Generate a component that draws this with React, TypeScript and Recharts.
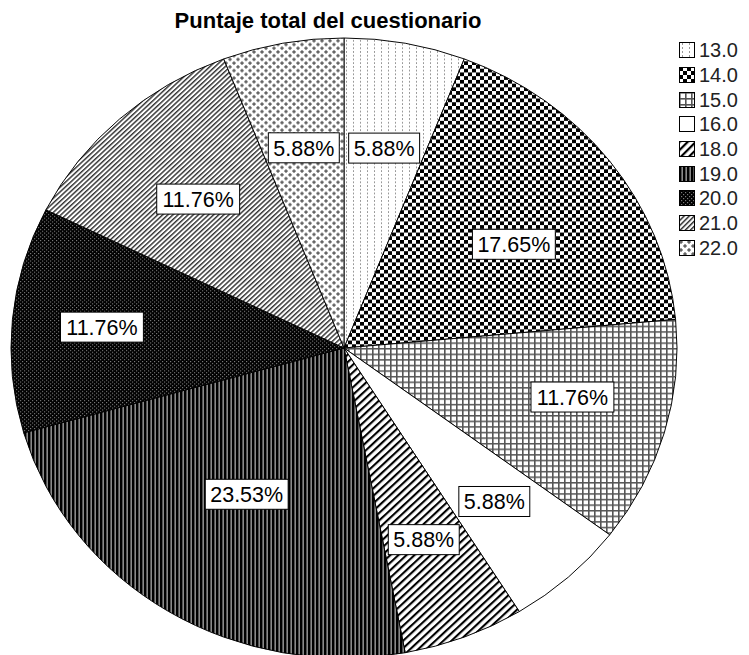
import React from 'react';
import { PieChart, Pie, Cell, Legend } from 'recharts';

const title = 'Puntaje total del cuestionario';
const categories = ['13.0', '14.0', '15.0', '16.0', '18.0', '19.0', '20.0', '21.0', '22.0'];
const counts = [1, 3, 2, 1, 1, 4, 2, 2, 1];
const percentLabels = ['5.88%', '17.65%', '11.76%', '5.88%', '5.88%', '23.53%', '11.76%', '11.76%', '5.88%'];
const patternIds = ['p13', 'p14', 'p15', 'p16', 'p18', 'p19', 'p20', 'p21', 'p22'];

const data = categories.map((name, i) => ({ name, value: counts[i], label: percentLabels[i] }));

// label placement style: radial fraction and angular nudge (degrees, clockwise) per slice
const labelRadius = [0.656, 0.61, 0.704, 0.67, 0.663, 0.555, 0.73, 0.65, 0.657];
const labelNudge = [0, 3.8, -2.9, 0, 0, 0, 0, 0, 0];

const CX = 344;
const CY = 348;
const RX = 333;
const Y_SCALE = 310 / 333;
const FONT = '"Liberation Sans", Arial, sans-serif';
const LABEL_FONT = 21.5;
const RAD = Math.PI / 180;

const charW = (c: string) => (c === '.' ? 0.278 : c === '%' ? 0.889 : 0.556);
const textWidth = (s: string, size: number) => s.split('').reduce((a, c) => a + charW(c), 0) * size;

const css = `
body { margin: 0; }
.squash path.recharts-sector {
  transform-box: view-box;
  transform-origin: ${CX}px ${CY}px;
  transform: scaleY(${Y_SCALE});
}
`;

const renderLabel = (props: any) => {
  const { cx, cy, midAngle, outerRadius, index } = props;
  const f = labelRadius[index];
  const a = (midAngle - labelNudge[index]) * RAD;
  const x = cx + outerRadius * f * Math.cos(a);
  const y = cy - outerRadius * Y_SCALE * f * Math.sin(a);
  const text = percentLabels[index];
  const w = textWidth(text, LABEL_FONT) + 10;
  const h = 30;
  return (
    <g key={`lbl-${index}`}>
      <rect x={x - w / 2} y={y - h / 2} width={w} height={h} fill="#fff" stroke="#000" strokeWidth={1} />
      <text x={x} y={y + LABEL_FONT * 0.36} textAnchor="middle" fontSize={LABEL_FONT} fontFamily={FONT} fill="#000">
        {text}
      </text>
    </g>
  );
};

const LegendContent = () => (
  <div style={{ fontFamily: FONT, fontSize: 20, color: '#222' }}>
    {categories.map((c, i) => (
      <div key={c} style={{ display: 'flex', alignItems: 'center', height: 24.7 }}>
        <svg width={16} height={16} style={{ marginRight: 4, flex: 'none' }}>
          <rect x={0.5} y={0.5} width={15} height={15} fill={`url(#${patternIds[i]})`} stroke="#000" strokeWidth={1} />
        </svg>
        <span style={{ lineHeight: '20px' }}>{c}</span>
      </div>
    ))}
  </div>
);

const Patterns = () => (
  <svg width={0} height={0} style={{ position: 'absolute' }}>
    <defs>
      <pattern id="p13" patternUnits="userSpaceOnUse" width={7} height={4}>
        <rect width={7} height={4} fill="#fff" />
        <rect x={3} y={1} width={1} height={2} fill="#999" />
      </pattern>
      <pattern id="p14" patternUnits="userSpaceOnUse" width={8} height={8}>
        <rect width={8} height={8} fill="#fff" />
        <rect x={0} y={0} width={4} height={4} fill="#000" />
        <rect x={4} y={4} width={4} height={4} fill="#000" />
      </pattern>
      <pattern id="p15" patternUnits="userSpaceOnUse" width={6} height={6}>
        <rect width={6} height={6} fill="#fff" />
        <rect x={0} y={0} width={6} height={1.6} fill="#555" />
        <rect x={0} y={0} width={1.6} height={6} fill="#555" />
      </pattern>
      <pattern id="p16" patternUnits="userSpaceOnUse" width={4} height={4}>
        <rect width={4} height={4} fill="#fff" />
      </pattern>
      <pattern id="p18" patternUnits="userSpaceOnUse" width={5.7} height={5.7} patternTransform="rotate(45)">
        <rect width={5.7} height={5.7} fill="#fff" />
        <rect x={0} y={0} width={2.2} height={5.7} fill="#000" />
      </pattern>
      <pattern id="p19" patternUnits="userSpaceOnUse" width={4} height={4}>
        <rect width={4} height={4} fill="#8a8a8a" />
        <rect x={0} y={0} width={2.4} height={4} fill="#000" />
      </pattern>
      <pattern id="p20" patternUnits="userSpaceOnUse" width={4} height={4}>
        <rect width={4} height={4} fill="#000" />
        <rect x={0} y={0} width={1.2} height={1.2} fill="#7a7a7a" />
        <rect x={2} y={2} width={1.2} height={1.2} fill="#7a7a7a" />
      </pattern>
      <pattern id="p21" patternUnits="userSpaceOnUse" width={3.6} height={3.6} patternTransform="rotate(45)">
        <rect width={3.6} height={3.6} fill="#fff" />
        <rect x={0} y={0} width={1.5} height={3.6} fill="#333" />
      </pattern>
      <pattern id="p22" patternUnits="userSpaceOnUse" width={8} height={8}>
        <rect width={8} height={8} fill="#fff" />
        <rect x={0.2} y={1.3} width={3.6} height={1.4} fill="#555" />
        <rect x={1.3} y={0.2} width={1.4} height={3.6} fill="#555" />
        <rect x={4.2} y={5.3} width={3.6} height={1.4} fill="#555" />
        <rect x={5.3} y={4.2} width={1.4} height={3.6} fill="#555" />
      </pattern>
    </defs>
  </svg>
);

export default function App() {
  return (
    <div className="squash" style={{ position: 'relative', width: 749, height: 655, overflow: 'hidden', background: '#fff' }}>
      <style>{css}</style>
      <Patterns />
      <PieChart width={749} height={655} margin={{ top: 0, right: 0, bottom: 0, left: 0 }}>
        <Pie
          data={data}
          dataKey="value"
          nameKey="name"
          cx={CX}
          cy={CY}
          outerRadius={RX}
          startAngle={90}
          endAngle={-270}
          stroke="#000"
          strokeWidth={1}
          label={renderLabel}
          labelLine={false}
          isAnimationActive={false}
        >
          {data.map((d, i) => (
            <Cell key={d.name} fill={`url(#${patternIds[i]})`} stroke="#000" />
          ))}
        </Pie>
        <Legend
          layout="vertical"
          align="right"
          verticalAlign="top"
          content={() => <LegendContent />}
          wrapperStyle={{ position: 'absolute', left: 679, top: 38, width: 70 }}
        />
      </PieChart>
      <svg width={749} height={40} style={{ position: 'absolute', left: 0, top: 0, pointerEvents: 'none' }}>
        <text x={328} y={28} textAnchor="middle" fontSize={22} fontWeight="bold" fontFamily={FONT} fill="#000">
          {title}
        </text>
      </svg>
    </div>
  );
}
